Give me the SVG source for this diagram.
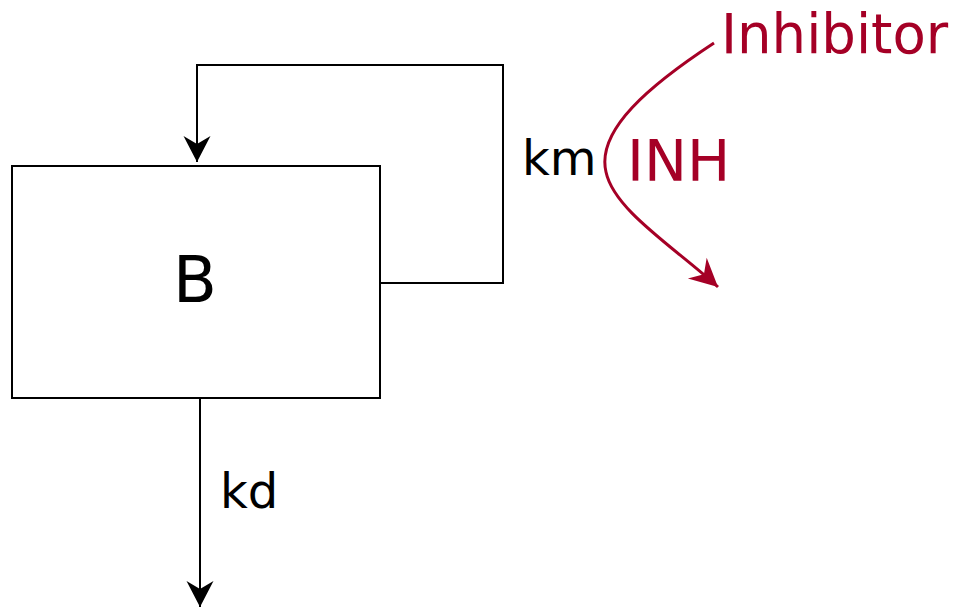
<svg xmlns="http://www.w3.org/2000/svg" width="956" height="608" viewBox="0 0 956 608">
<style>
.t{font-family:"DejaVu Sans",Verdana,sans-serif;}
.blk{fill:#000;}
.red{fill:#A50026;}
.ln{fill:none;stroke:#000;stroke-width:2;}
</style>
<defs>
<marker id="ab" markerUnits="userSpaceOnUse" markerWidth="40" markerHeight="40" refX="0" refY="0" orient="auto" overflow="visible">
<path d="M0,0 L-26,-13.5 L-18,0 L-26,13.5 Z" fill="#000"/>
</marker>
<marker id="ar" markerUnits="userSpaceOnUse" markerWidth="40" markerHeight="40" refX="0" refY="0" orient="auto" overflow="visible">
<path d="M0,0 L-28,-14 L-19,0 L-28,14 Z" fill="#A50026"/>
</marker>
</defs>
<rect width="956" height="608" fill="#fff"/>
<g id="node-B">
<rect x="12" y="166" width="368" height="232" fill="#fff" stroke="#000" stroke-width="2"/>
<text class="t blk" x="195" y="302" font-size="64" text-anchor="middle">B</text>
</g>
<g id="node-Inhibitor">
<text class="t red" x="721" y="53" font-size="54.5">Inhibitor</text>
</g>
<g id="connectors">
<path class="ln" d="M380,283 L503,283 L503,65 L197,65 L197,162" marker-end="url(#ab)"/>
<path class="ln" d="M200,398 L200,607" marker-end="url(#ab)"/>
<path d="M714,43 C650,85 596,130 606,172 C614,210 674,247 718,287" fill="none" stroke="#A50026" stroke-width="3" marker-end="url(#ar)"/>
</g>
<g id="labels">
<text class="t blk" x="522" y="175" font-size="48">km</text>
<text class="t blk" x="220" y="508" font-size="48">kd</text>
<text class="t red" x="627" y="180.5" font-size="57.5">INH</text>
</g>
</svg>
